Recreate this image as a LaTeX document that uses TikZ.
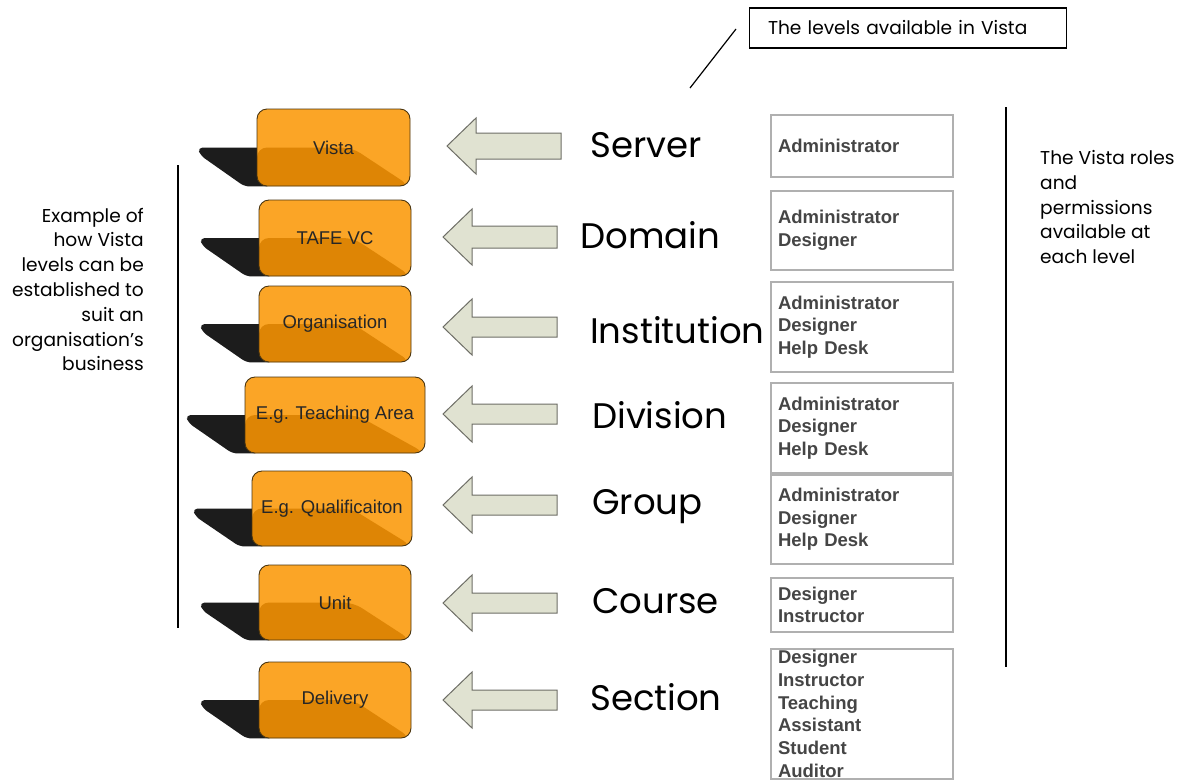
\documentclass[tikz,border=0pt]{standalone}
\usepackage{fontspec}
\setmainfont{Liberation Sans}
\newfontfamily\gothic{Poppins}
\usetikzlibrary{backgrounds,calc}
\definecolor{olight}{HTML}{FBA526}
\definecolor{odark}{HTML}{DE8505}
\definecolor{oborder}{HTML}{4A3510}
\definecolor{shad}{HTML}{1C1C1C}
\definecolor{arrfill}{HTML}{E0E2D1}
\definecolor{arrdraw}{HTML}{6E6E66}
\definecolor{rolebd}{HTML}{B0B0B0}
\definecolor{roletx}{HTML}{454545}
\newcommand{\leftarrowshape}[4]{% name, tip x, tip y, shaft half
  \coordinate (#1) at (#2,#3);
  \draw[arrowsty] (#1) -- ++(29,-28) -- ++(0,28-#4) -- ++(85,0) -- ++(0,2*#4) -- ++(-85,0) -- ++(0,28-#4) -- cycle;}
\begin{document}
\begin{tikzpicture}[x=1pt,y=-1pt,
  lvlbox/.style={draw=oborder, line width=0.9pt, rounded corners=10pt, fill=olight, inner sep=0pt,
    font=\fontsize{18.5}{20}\selectfont, text=black!85,
    path picture={\fill[odark] (path picture bounding box.west) -- ($(path picture bounding box.west)!0.62!(path picture bounding box.east)$) -- (path picture bounding box.south east) -- (path picture bounding box.south west) -- cycle;}},
  arrowsty/.style={fill=arrfill, draw=arrdraw, line width=1pt, line join=miter},
  lvllabel/.style={anchor=west, inner sep=0pt, font=\gothic\fontsize{35.5}{40}\selectfont, text=black},
  rolebox/.style={draw=rolebd, line width=1.2pt, fill=white, minimum width=182pt, text width=168pt, inner xsep=7pt, inner ysep=0pt, align=left, text=roletx, font=\bfseries\fontsize{18.5}{22.7}\selectfont},
  note/.style={inner sep=0pt, font=\gothic\fontsize{18.6}{24.8}\selectfont, text=black}
]
\begin{scope}[on background layer]
  \fill[white] (0,0) rectangle (1190,780);
\end{scope}
\useasboundingbox (0,0) rectangle (1190,780);

% level boxes
\node[lvlbox, minimum width=153pt, minimum height=77pt] (vista) at (333.5,147.5) {Vista};
\node[lvlbox, minimum width=152pt, minimum height=76pt] (tafe) at (335,238) {TAFE VC};
\node[lvlbox, minimum width=152pt, minimum height=76pt] (org) at (335,324) {Organisation};
\node[lvlbox, minimum width=180pt, minimum height=76pt] (teach) at (335,415) {E.g. Teaching Area};
\node[lvlbox, minimum width=160pt, minimum height=75pt] (qual) at (332,508.5) {E.g. Qualificaiton};
\node[lvlbox, minimum width=152pt, minimum height=75pt] (unit) at (335,602.5) {Unit};
\node[lvlbox, minimum width=152pt, minimum height=76pt] (deliv) at (335,700) {Delivery};

\begin{scope}[on background layer]
  \foreach \n in {vista,tafe,org,teach,qual,unit,deliv}{
    \fill[shad, rounded corners=5pt] ([xshift=-59pt]\n.west) -- ([xshift=15pt]\n.west) -- ([xshift=15pt]\n.south west) -- ([xshift=-12pt]\n.south west) -- ([xshift=-56pt,yshift=-8pt]\n.west) -- cycle;
  }
\end{scope}

% arrows
\leftarrowshape{a1}{447}{146}{13}
\leftarrowshape{a2}{443}{237}{11}
\leftarrowshape{a3}{443}{327}{10}
\leftarrowshape{a4}{443}{414}{10}
\leftarrowshape{a5}{443}{505}{10}
\leftarrowshape{a6}{443}{603}{10}
\leftarrowshape{a7}{443}{700}{10}

% level labels
\node[lvllabel] (server) at (590,145) {Server};
\node[lvllabel] (domain) at (580,235) {Domain};
\node[lvllabel] (inst) at (590,330) {Institution};
\node[lvllabel] (div) at (592,415) {Division};
\node[lvllabel] (group) at (592,507) {Group};
\node[lvllabel] (course) at (592,601) {Course};
\node[lvllabel] (section) at (590,697) {Section};

% role boxes
\node[rolebox, minimum height=62pt] (r1) at (862,146) {Administrator};
\node[rolebox, minimum height=79pt] (r2) at (862,230.5) {Administrator\\Designer};
\node[rolebox, minimum height=90pt] (r3) at (862,327) {Administrator\\Designer\\Help Desk};
\node[rolebox, minimum height=90pt] (r4) at (862,428) {Administrator\\Designer\\Help Desk};
\node[rolebox, minimum height=89pt] (r5) at (862,519.5) {Administrator\\Designer\\Help Desk};
\node[rolebox, minimum height=54pt] (r6) at (862,605) {Designer\\Instructor};
\node[rolebox, minimum height=130pt] (r7) at (862,714) {Designer\\Instructor\\Teaching\\Assistant\\Student\\Auditor};

% callout
\node[draw=black, line width=1.2pt, minimum height=40pt, text width=280pt, inner xsep=18.5pt, align=left,
  font=\gothic\fontsize{18.6}{20}\selectfont] (callout) at (908,28) {The levels available in Vista};
\coordinate (cla) at (690,88);
\coordinate (clb) at (736,29);
\draw[line width=1.2pt] (cla) -- (clb);

% side notes
\draw[line width=1.6pt] (178,165) -- (178,628);
\draw[line width=1.6pt] (1006,107) -- (1006,667);
\node[note, align=right, anchor=east] (lnote) at (144,289.5) {Example of\\how Vista\\levels can be\\established to\\suit an\\organisation’s\\business};
\node[note, align=left, anchor=west] (rnote) at (1040,207) {The Vista roles\\and\\permissions\\available at\\each level};
\end{tikzpicture}
\end{document}
